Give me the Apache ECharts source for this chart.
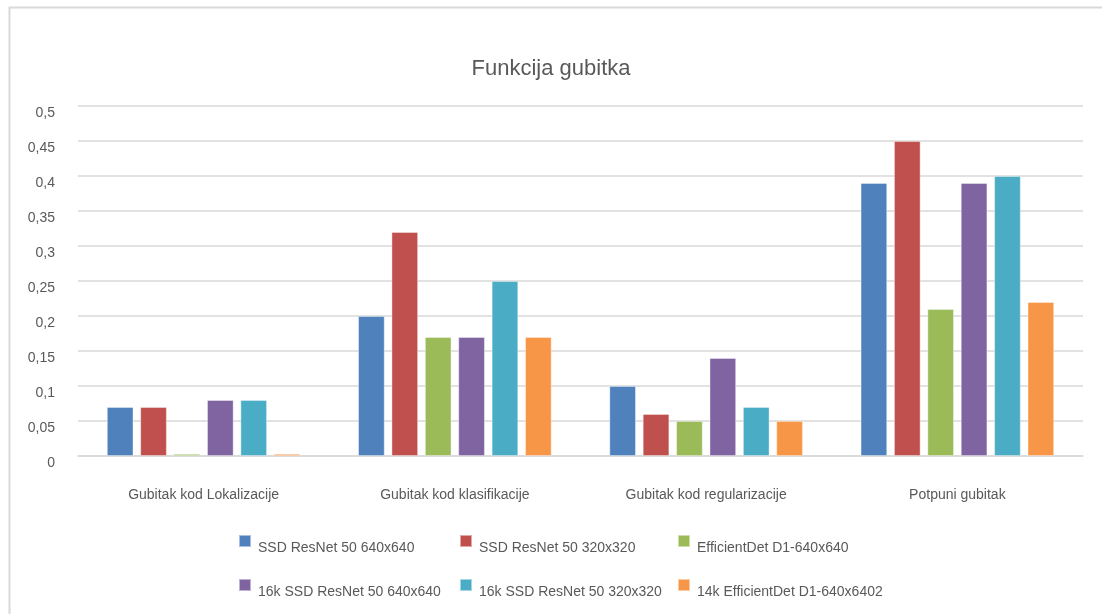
<!DOCTYPE html>
<html>
<head>
<meta charset="utf-8">
<script src="https://cdn.jsdelivr.net/npm/echarts@6/dist/echarts.min.js"></script>
<style>
html,body{margin:0;padding:0;background:#fff;}
#chart{width:1102px;height:614px;}
</style>
</head>
<body>
<div id="chart"></div>
<script>
const categories = ['Gubitak kod Lokalizacije', 'Gubitak kod klasifikacije', 'Gubitak kod regularizacije', 'Potpuni gubitak'];
const seriesNames = ['SSD ResNet 50 640x640', 'SSD ResNet 50 320x320', 'EfficientDet D1-640x640', '16k SSD ResNet 50 640x640', '16k SSD ResNet 50 320x320', '14k EfficientDet D1-640x6402'];
const ssd640 = [0.07, 0.20, 0.10, 0.39];
const ssd320 = [0.07, 0.32, 0.06, 0.45];
const effDet = [0.003, 0.17, 0.05, 0.21];
const ssd640_16k = [0.08, 0.17, 0.14, 0.39];
const ssd320_16k = [0.08, 0.25, 0.07, 0.40];
const effDet_14k = [0.003, 0.17, 0.05, 0.22];
const yTicks = [0, 0.05, 0.1, 0.15, 0.2, 0.25, 0.3, 0.35, 0.4, 0.45, 0.5];

const seriesData = [ssd640, ssd320, effDet, ssd640_16k, ssd320_16k, effDet_14k];
const colors = ['#4F81BD', '#C0504D', '#9BBB59', '#8064A2', '#4BACC6', '#F79646'];
const font = '"Liberation Sans", "Noto Sans", sans-serif';

const legendPos = [
  {left: 238, top: 534}, {left: 459, top: 534}, {left: 677, top: 534},
  {left: 238, top: 578}, {left: 459, top: 578}, {left: 677, top: 578}
];

const chart = echarts.init(document.getElementById('chart'));
chart.setOption({
  backgroundColor: '#fff',
  animation: false,
  color: colors,
  graphic: [{
    type: 'rect',
    shape: {x: 9.5, y: 7.5, width: 1300, height: 800},
    style: {fill: 'none', stroke: '#d9d9d9', lineWidth: 2},
    silent: true, z: -10
  }],
  title: {
    text: 'Funkcija gubitka',
    left: 'center',
    top: 53,
    textStyle: {fontFamily: font, fontSize: 22, fontWeight: 'normal', color: '#595959'}
  },
  legend: seriesNames.map((n, i) => ({
    data: [n],
    left: legendPos[i].left,
    top: legendPos[i].top,
    icon: 'rect',
    itemWidth: 12,
    itemHeight: 12,
    itemGap: 6,
    padding: 0,
    formatter: name => '{t|' + name + '}',
    textStyle: {
      fontFamily: font, fontSize: 14, color: '#595959',
      rich: {t: {fontFamily: font, fontSize: 14, color: '#595959', padding: [14, 0, 0, 2]}}
    }
  })),
  grid: {left: 78, right: 19, top: 106, bottom: 158, containLabel: false},
  xAxis: {
    type: 'category',
    data: categories,
    axisLine: {lineStyle: {color: '#d9d9d9', width: 1.5}},
    axisTick: {show: false},
    axisLabel: {fontFamily: font, fontSize: 14, color: '#595959', margin: 32}
  },
  yAxis: {
    type: 'value',
    min: yTicks[0],
    max: yTicks[yTicks.length - 1],
    interval: 0.05,
    axisLine: {show: false},
    axisTick: {show: false},
    splitLine: {lineStyle: {color: '#d9d9d9', width: 1.5}},
    axisLabel: {
      fontFamily: font, fontSize: 14, color: '#595959', margin: 23,
      verticalAlign: 'top',
      formatter: v => String(Math.round(v * 100) / 100).replace('.', ',')
    }
  },
  series: seriesNames.map((n, i) => ({
    name: n,
    type: 'bar',
    data: seriesData[i],
    barGap: '26%',
    barCategoryGap: '23%',
    itemStyle: {color: colors[i], borderColor: 'rgba(255,255,255,0.5)', borderWidth: 0.8}
  }))
});
</script>
</body>
</html>
